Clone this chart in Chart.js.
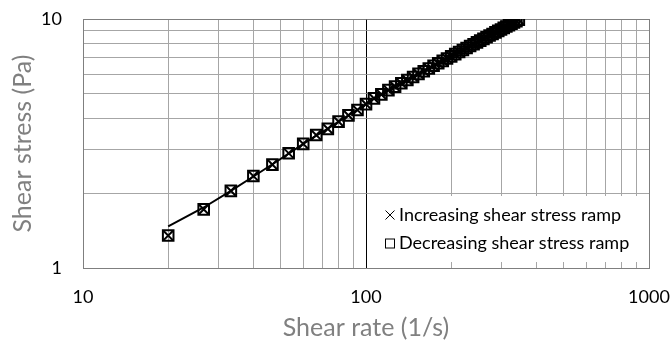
<!DOCTYPE html>
<html>
<head>
<meta charset="utf-8">
<script src="https://cdn.jsdelivr.net/npm/chart.js@4.4.1/dist/chart.umd.min.js"></script>
<style>
	html, body { margin: 0; padding: 0; background: #fff; }
	#wrap { width: 671px; height: 343px; }
</style>
</head>
<body>
<div id="wrap"><canvas id="chart"></canvas></div>
<script>
// shear rate (1/s)
const shearRate = [20, 26.7, 33.3, 40, 46.7, 53.3, 60, 66.7, 73.3, 80, 86.7, 93.3, 100, 106.7,
	113.3, 120, 126.7, 133.3, 140, 146.7, 153.3, 160, 166.7, 173.3, 180, 186.7, 193.3, 200,
	206.7, 213.3, 220, 226.7, 233.3, 240, 246.7, 253.3, 260, 266.7, 273.3, 280, 286.7, 293.3,
	300, 306.7, 313.3, 320, 326.7, 333.3, 340, 346.7];

// shear stress (Pa)
const stressIncreasing = [1.35, 1.72, 2.04, 2.34, 2.60, 2.89, 3.15, 3.42, 3.62, 3.87, 4.10, 4.31,
	4.55, 4.80, 4.98, 5.18, 5.35, 5.52, 5.69, 5.85, 6.02, 6.17, 6.33, 6.49, 6.64, 6.79, 6.94,
	7.08, 7.23, 7.37, 7.51, 7.65, 7.79, 7.92, 8.06, 8.19, 8.32, 8.45, 8.58, 8.71, 8.84, 8.96,
	9.08, 9.21, 9.33, 9.45, 9.57, 9.69, 9.81, 9.93];
const stressDecreasing = [1.35, 1.72, 2.04, 2.34, 2.60, 2.89, 3.15, 3.42, 3.62, 3.87, 4.10, 4.31,
	4.55, 4.80, 4.98, 5.18, 5.35, 5.52, 5.69, 5.85, 6.02, 6.17, 6.33, 6.49, 6.64, 6.79, 6.94,
	7.08, 7.23, 7.37, 7.51, 7.65, 7.79, 7.92, 8.06, 8.19, 8.32, 8.45, 8.58, 8.71, 8.84, 8.96,
	9.08, 9.21, 9.33, 9.45, 9.57, 9.69, 9.81, 9.93];
const stressFit = [1.47, 1.75, 2.04, 2.33, 2.61, 2.88, 3.15, 3.40, 3.63, 3.87, 4.10, 4.32,
	4.55, 4.79, 4.99, 5.18, 5.35, 5.52, 5.69, 5.85, 6.02, 6.17, 6.33, 6.49, 6.64, 6.79, 6.94,
	7.08, 7.23, 7.37, 7.51, 7.65, 7.79, 7.92, 8.06, 8.19, 8.32, 8.45, 8.58, 8.71, 8.84, 8.96,
	9.08, 9.21, 9.33, 9.45, 9.57, 9.69, 9.81, 9.93];

const seriesLabels = ["Increasing shear stress ramp", "Decreasing shear stress ramp"];
const xTickLabels = [10, 100, 1000];
const yTickLabels = [1, 10];

const toPoints = ys => shearRate.map((x, i) => ({ x: x, y: ys[i] }));

// 1,2,...,9 of every decade between lo and hi (grid lines)
const decadeTicks = (lo, hi) => {
	const out = [];
	for (let d = lo; d < hi; d *= 10) {
		for (let k = 1; k < 10; k++) out.push({ value: k * d });
	}
	out.push({ value: hi });
	return out;
};

const FONT = "Lato";
const GRID = "#a6a6a6";
const AXIS = "#7f7f7f";

// legend sits inside the plot, bottom right, on a white box
const insideLegend = {
	id: "insideLegend",
	afterDraw(chart) {
		const { ctx, chartArea } = chart;
		const left = 370, top = 196, right = chartArea.right - 1, bottom = chartArea.bottom - 6;
		ctx.save();
		ctx.fillStyle = "#fff";
		ctx.fillRect(left, top, right - left, bottom - top);
		ctx.strokeStyle = "#000";
		ctx.lineWidth = 1;
		let cx = 390, cy = 215;
		ctx.beginPath();
		ctx.moveTo(cx - 4.5, cy - 4.5); ctx.lineTo(cx + 4.5, cy + 4.5);
		ctx.moveTo(cx + 4.5, cy - 4.5); ctx.lineTo(cx - 4.5, cy + 4.5);
		ctx.stroke();
		cy = 243.5;
		ctx.strokeRect(cx - 4.5, cy - 4.5, 9, 9);
		ctx.fillStyle = "#000";
		ctx.font = "18px " + FONT;
		ctx.textBaseline = "middle";
		ctx.textAlign = "left";
		ctx.fillText(seriesLabels[0], 399, 215);
		ctx.fillText(seriesLabels[1], 399, 243);
		ctx.restore();
	},
};

new Chart(document.getElementById("chart"), {
	type: "scatter",
	plugins: [insideLegend],
	data: {
		datasets: [
			{
				label: seriesLabels[0],
				data: toPoints(stressIncreasing),
				pointStyle: "crossRot",
				pointRadius: 6.5,
				borderColor: "#000",
				borderWidth: 2,
				backgroundColor: "transparent",
			},
			{
				label: seriesLabels[1],
				data: toPoints(stressDecreasing),
				pointStyle: "rect",
				pointRadius: 7.5,
				borderColor: "#000",
				borderWidth: 2,
				backgroundColor: "transparent",
			},
			{
				label: "fit",
				data: toPoints(stressFit),
				showLine: true,
				pointRadius: 0,
				borderColor: "#000",
				borderWidth: 2,
				tension: 0,
			},
		],
	},
	options: {
		responsive: true,
		maintainAspectRatio: false,
		animation: false,
		layout: { padding: { left: 0, right: 22, top: 19, bottom: 0 } },
		plugins: {
			legend: { display: false },
			tooltip: { enabled: false },
		},
		scales: {
			x: {
				type: "logarithmic",
				min: 10,
				max: 1000,
				afterBuildTicks: scale => { scale.ticks = decadeTicks(10, 1000); },
				afterFit: scale => {
					scale.height = 75;
					scale.paddingLeft = 0;
					scale.paddingRight = 0;
				},
				grid: {
					drawTicks: false,
					color: c => (c.tick && c.tick.value === 100 ? "#000" : c.tick && c.tick.value === 1000 ? AXIS : GRID),
					lineWidth: 1,
				},
				border: { color: AXIS },
				ticks: {
					padding: 18,
					maxRotation: 0,
					autoSkip: false,
					color: "#000",
					font: { family: FONT, size: 18 },
					callback: v => (xTickLabels.includes(v) ? String(v) : ""),
				},
				title: {
					display: true,
					text: "Shear rate (1/s)",
					color: "#808080",
					font: { family: FONT, size: 25 },
					padding: { top: 0, bottom: 0 },
				},
			},
			y: {
				type: "logarithmic",
				min: 1,
				max: 10,
				afterBuildTicks: scale => { scale.ticks = decadeTicks(1, 10); },
				afterFit: scale => {
					scale.width = 83;
					scale.paddingTop = 0;
					scale.paddingBottom = 0;
				},
				grid: {
					drawTicks: false,
					color: c => (c.tick && c.tick.value === 10 ? AXIS : GRID),
					lineWidth: 1,
				},
				border: { color: AXIS },
				ticks: {
					padding: 21,
					autoSkip: false,
					color: "#000",
					font: { family: FONT, size: 18 },
					callback: v => (yTickLabels.includes(v) ? String(v) : ""),
				},
				title: {
					display: true,
					text: "Shear stress (Pa)",
					color: "#808080",
					font: { family: FONT, size: 25 },
					padding: { top: 8, bottom: 0 },
				},
			},
		},
	},
});
</script>
</body>
</html>
